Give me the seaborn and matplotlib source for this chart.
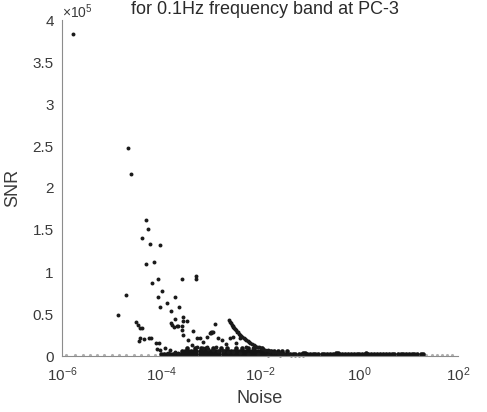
import numpy as np
import pandas as pd
import seaborn as sns
import matplotlib
matplotlib.use("Agg")
import matplotlib.pyplot as plt
from matplotlib.ticker import FuncFormatter, NullLocator

# isolated points (noise, SNR)
spot_noise = [1.67e-6, 2.2e-5, 2.47e-5, 4.9e-5, 5.4e-5, 4.2e-5, 6.0e-5, 9.6e-5,
              5.0e-5, 7.2e-5, 1.94e-5, 1.37e-5, 6.5e-5, 8.8e-5, 2.6e-4, 5.1e-4,
              5.1e-4, 1.07e-4, 8.8e-5, 1.3e-4, 1.9e-4, 9.6e-5, 1.6e-4, 2.3e-4,
              1.9e-4, 2.8e-4, 3.3e-4, 1.6e-4, 1.8e-4, 2.6e-4, 2.2e-4, 3.1e-5,
              3.4e-5, 3.7e-5, 4.2e-5, 3.7e-5, 3.6e-5, 4.6e-5, 5.8e-5, 6.3e-5,
              9.2e-5, 8.4e-5, 9.6e-5, 2.8e-4, 4.5e-4, 1.03e-3, 1.26e-3, 1.1e-3,
              1.0e-3, 1.4e-3, 8.4e-4, 6.2e-4, 2.9e-3, 3.9e-3, 2.1e-3, 1.65e-4,
              2.1e-4, 2.6e-4, 2.8e-4, 3.5e-4, 5.3e-4, 7.1e-4, 9.8e-4, 1.06e-3,
              1.7e-3, 2.5e-3, 1.3e-3, 8.4e-4, 8.1e-5, 1.2e-4, 1.5e-4, 1.9e-4,
              2.2e-4, 1.4e-4, 3.3e-3, 5.3e-3, 7.3e-3]
spot_snr = [3.83e5, 2.48e5, 2.17e5, 1.62e5, 1.51e5, 1.41e5, 1.33e5, 1.32e5,
            1.10e5, 1.12e5, 0.73e5, 0.49e5, 0.87e5, 0.92e5, 0.92e5, 0.92e5,
            0.95e5, 0.77e5, 0.70e5, 0.63e5, 0.70e5, 0.58e5, 0.54e5, 0.58e5,
            0.44e5, 0.42e5, 0.42e5, 0.39e5, 0.34e5, 0.36e5, 0.36e5, 0.41e5,
            0.37e5, 0.33e5, 0.33e5, 0.22e5, 0.18e5, 0.20e5, 0.22e5, 0.22e5,
            0.16e5, 0.08e5, 0.07e5, 0.46e5, 0.30e5, 0.28e5, 0.38e5, 0.29e5,
            0.27e5, 0.21e5, 0.23e5, 0.22e5, 0.23e5, 0.21e5, 0.14e5, 0.37e5,
            0.36e5, 0.31e5, 0.25e5, 0.19e5, 0.21e5, 0.17e5, 0.27e5, 0.29e5,
            0.19e5, 0.21e5, 0.11e5, 0.11e5, 0.15e5, 0.09e5, 0.07e5, 0.05e5,
            0.03e5, 0.04e5, 0.15e5, 0.11e5, 0.09e5]

# the thick upper curve
curve_noise = [2.4e-3, 2.5e-3, 2.6e-3, 2.7e-3, 2.8e-3, 2.9e-3, 3.0e-3, 3.15e-3,
               3.3e-3, 3.45e-3, 3.6e-3, 3.8e-3, 4.0e-3, 4.2e-3, 4.4e-3, 4.7e-3,
               5.0e-3, 5.3e-3, 5.6e-3, 6.0e-3, 6.4e-3, 6.9e-3, 7.4e-3, 8.0e-3,
               8.7e-3, 9.5e-3, 1.05e-2, 1.15e-2, 1.28e-2, 1.42e-2, 1.6e-2, 1.8e-2,
               2.05e-2, 2.35e-2, 2.7e-2, 3.1e-2, 3.6e-2, 4.2e-2, 5.0e-2, 6.0e-2,
               7.5e-2]
curve_snr = [0.43e5, 0.41e5, 0.39e5, 0.375e5, 0.36e5, 0.345e5, 0.335e5, 0.32e5,
             0.305e5, 0.29e5, 0.28e5, 0.265e5, 0.25e5, 0.24e5, 0.23e5, 0.215e5,
             0.20e5, 0.19e5, 0.175e5, 0.165e5, 0.155e5, 0.143e5, 0.133e5, 0.122e5,
             0.112e5, 0.102e5, 0.092e5, 0.083e5, 0.075e5, 0.067e5, 0.058e5, 0.050e5,
             0.043e5, 0.036e5, 0.030e5, 0.025e5, 0.020e5, 0.016e5, 0.013e5, 0.010e5,
             0.008e5]

# lower, flatter curve
curve2_noise = [4.2e-4, 5.4e-4, 7.0e-4, 8.9e-4, 1.12e-3, 1.42e-3, 1.8e-3, 2.25e-3,
                2.9e-3, 3.9e-3, 5.7e-3, 9.0e-3, 1.45e-2, 2.5e-2]
curve2_snr = [0.13e5, 0.113e5, 0.098e5, 0.086e5, 0.075e5, 0.065e5, 0.057e5, 0.050e5,
              0.043e5, 0.036e5, 0.029e5, 0.021e5, 0.015e5, 0.010e5]

# dense band of points lying on the floor
floor_noise = [1.0e-4, 1.15e-4, 1.3e-4, 1.5e-4, 1.75e-4, 2.0e-4, 2.3e-4, 2.65e-4, 3.0e-4,
               3.5e-4, 4.0e-4, 4.6e-4, 5.2e-4, 6.0e-4, 6.9e-4, 7.9e-4, 9.1e-4,
               1.0e-3, 1.15e-3, 1.3e-3, 1.5e-3, 1.75e-3, 2.0e-3, 2.3e-3, 2.65e-3, 3.0e-3,
               3.5e-3, 4.0e-3, 4.6e-3, 5.2e-3, 6.0e-3, 6.9e-3, 7.9e-3, 9.1e-3,
               1.0e-2, 1.15e-2, 1.3e-2, 1.5e-2, 1.75e-2, 2.0e-2, 2.3e-2, 2.65e-2, 3.0e-2,
               3.5e-2, 4.0e-2, 4.6e-2, 5.2e-2, 6.0e-2, 6.9e-2, 7.9e-2, 9.1e-2,
               1.0e-1, 1.15e-1, 1.3e-1, 1.5e-1, 1.75e-1, 2.0e-1, 2.3e-1, 2.65e-1, 3.0e-1,
               3.5e-1, 4.0e-1, 4.6e-1, 5.2e-1, 6.0e-1, 6.9e-1, 7.9e-1, 9.1e-1,
               1.0, 1.15, 1.3, 1.5, 1.75, 2.0, 2.3, 2.65, 3.0,
               3.5, 4.0, 4.6, 5.2, 6.0, 6.9, 7.9, 9.1,
               10.0, 11.5, 13.0, 15.0, 17.5, 20.0]
floor2_noise = [2.65e-4, 3.0e-4, 3.5e-4, 4.0e-4, 4.6e-4, 5.2e-4, 6.0e-4, 6.9e-4, 7.9e-4,
                9.1e-4, 1.0e-3, 1.15e-3, 1.3e-3, 1.5e-3, 1.75e-3, 2.0e-3, 2.3e-3,
                2.65e-3, 3.0e-3, 3.5e-3, 4.0e-3, 4.6e-3, 5.2e-3, 6.0e-3, 6.9e-3,
                7.9e-3, 9.1e-3, 1.05e-2, 1.2e-2, 1.4e-2, 1.65e-2, 1.9e-2, 2.3e-2,
                2.8e-2, 3.5e-2]
floor3_noise = [3.3e-4, 4.8e-4, 6.5e-4, 8.2e-4, 1.1e-3, 1.6e-3, 2.2e-3, 3.2e-3,
                4.3e-3, 5.8e-3, 7.5e-3, 1.1e-2]
bump_noise = [7.4e-2, 8.0e-2, 3.4e-1, 3.8e-1, 1.4]
faint_noise = [1.2e-6, 1.8e-6, 2.6e-6, 3.6e-6, 5.0e-6, 7.0e-6, 1.0e-5, 1.4e-5,
               2.0e-5, 2.8e-5, 4.0e-5, 5.5e-5, 7.5e-5, 23.0, 30.0, 38.0, 48.0,
               60.0, 75.0]
floor_level = 2.5e3
floor2_level = 5.5e3
floor3_level = 9.0e3
bump_level = 4.0e3
faint_level = 1.5e3

sns.set_style("white")
plt.rcParams["font.family"] = ["Liberation Sans", "DejaVu Sans"]
plt.rcParams["mathtext.fontset"] = "custom"
plt.rcParams["mathtext.rm"] = "Liberation Sans"
plt.rcParams["mathtext.it"] = "Liberation Sans:italic"
plt.rcParams["mathtext.bf"] = "Liberation Sans:bold"

dark = pd.DataFrame({
    "noise": spot_noise + curve_noise + curve2_noise,
    "snr": spot_snr + curve_snr + curve2_snr,
})
band = pd.DataFrame({
    "noise": floor_noise + floor2_noise + floor3_noise + bump_noise,
    "snr": [floor_level] * len(floor_noise) + [floor2_level] * len(floor2_noise)
           + [floor3_level] * len(floor3_noise) + [bump_level] * len(bump_noise),
})
faint = pd.DataFrame({"noise": faint_noise, "snr": [faint_level] * len(faint_noise)})

fig = plt.figure(figsize=(4.87, 4.12), dpi=100)
ax = fig.add_axes([62 / 487, 1 - 356 / 412, 396 / 487, 336 / 412])

sns.scatterplot(data=faint, x="noise", y="snr", ax=ax, color="#b0b0b0", s=5,
                linewidth=0, clip_on=False)
sns.scatterplot(data=band, x="noise", y="snr", ax=ax, color="#151515", s=11,
                linewidth=0, clip_on=False)
sns.scatterplot(data=dark, x="noise", y="snr", ax=ax, color="#1a1a1a", s=8,
                linewidth=0, clip_on=False)

ax.set_xscale("log")
ax.set_xlim(1e-6, 1e2)
ax.set_ylim(0, 4e5)
ax.set_xticks([1e-6, 1e-4, 1e-2, 1e0, 1e2])
ax.xaxis.set_minor_locator(NullLocator())
ax.set_yticks([0, 0.5e5, 1e5, 1.5e5, 2e5, 2.5e5, 3e5, 3.5e5, 4e5])
ax.yaxis.set_major_formatter(FuncFormatter(lambda v, p: f"{v / 1e5:g}"))

for side in ["top", "right"]:
    ax.spines[side].set_visible(False)
for side in ["left", "bottom"]:
    ax.spines[side].set_color("#8c8c8c")
    ax.spines[side].set_linewidth(0.8)
ax.tick_params(direction="in", length=4, width=0.8, color="#8c8c8c",
               labelcolor="#3a3a3a", labelsize=11)
ax.tick_params(axis="x", pad=7)
ax.tick_params(axis="y", pad=6)

ax.set_xlabel("Noise", fontsize=13, color="#3a3a3a", labelpad=4)
ax.set_ylabel("SNR", fontsize=13, color="#3a3a3a", labelpad=8)

fig.text(62 / 487, 0.971, r"$\times10^5$", fontsize=10, color="#3a3a3a",
         ha="left", va="center")
fig.text(0.545, 0.978, "for 0.1Hz frequency band at PC-3", fontsize=13,
         color="#2a2a2a", ha="center", va="center")

fig.savefig("out.png", dpi=100)
